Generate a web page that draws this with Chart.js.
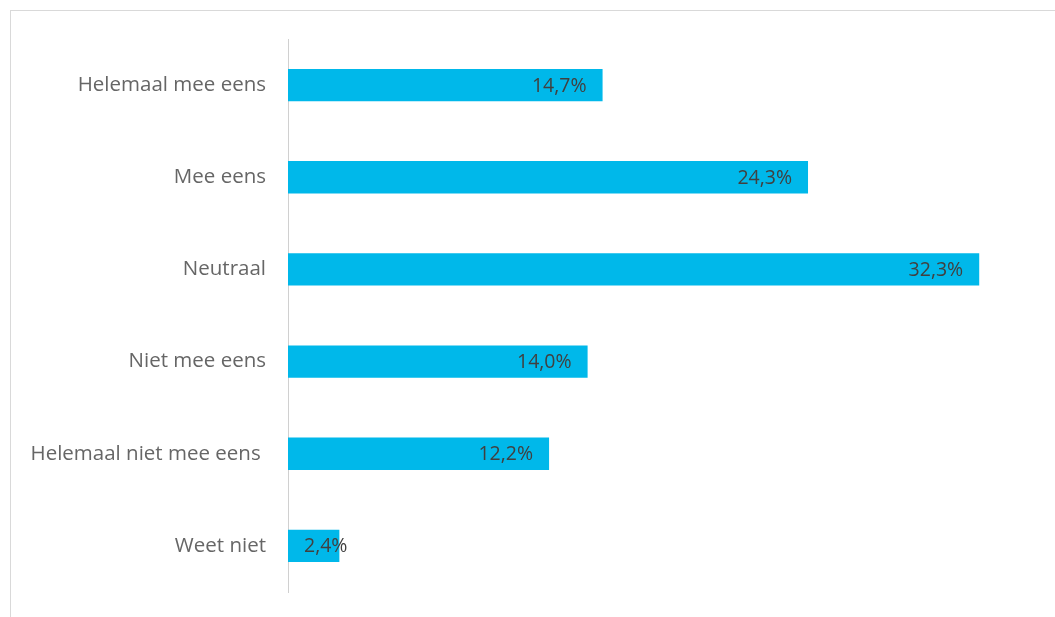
<!DOCTYPE html>
<html>
<head>
<meta charset="utf-8">
<script src="https://cdn.jsdelivr.net/npm/chart.js@4"></script>
<style>
  html, body { margin: 0; padding: 0; background: #fff; overflow: hidden; }
  #wrap { position: relative; width: 1055px; height: 617px; }
</style>
</head>
<body>
<div id="wrap"><canvas id="chart"></canvas></div>
<script>
// Answer categories and their shares (%)
const categories = ['Helemaal mee eens', 'Mee eens', 'Neutraal', 'Niet mee eens', 'Helemaal niet mee eens ', 'Weet niet'];
const shares = [14.7, 24.3, 32.3, 14.0, 12.2, 2.4];

const fmt = v => v.toFixed(1).replace('.', ',') + '%';

// light frame around the chart object
const framePlugin = {
  id: 'frame',
  beforeDraw(chart) {
    const c = chart.ctx;
    c.save();
    c.strokeStyle = '#d9d9d9';
    c.lineWidth = 1;
    c.strokeRect(10.5, 10.5, 1200, 800);
    c.restore();
  }
};

// value labels at the inner end of each bar
const valueLabels = {
  id: 'valueLabels',
  afterDatasetsDraw(chart) {
    const c = chart.ctx;
    const meta = chart.getDatasetMeta(0);
    const left = chart.chartArea.left;
    c.save();
    c.font = '19.5px "Open Sans"';
    c.fillStyle = '#404040';
    c.textBaseline = 'middle';
    c.textAlign = 'left';
    meta.data.forEach((bar, i) => {
      const txt = fmt(shares[i]);
      const w = c.measureText(txt).width;
      let x = bar.x - 16 - w;
      if (x < left + 16) x = left + 16;
      c.fillText(txt, x, bar.y + 1);
    });
    c.restore();
  }
};

new Chart(document.getElementById('chart'), {
  type: 'bar',
  data: {
    labels: categories,
    datasets: [{
      data: shares,
      backgroundColor: '#00b8ea',
      borderWidth: 0,
      categoryPercentage: 0.7,
      barPercentage: 0.5
    }]
  },
  options: {
    indexAxis: 'y',
    responsive: true,
    maintainAspectRatio: false,
    animation: false,
    layout: { padding: { top: 39, right: 18, bottom: 25, left: 0 } },
    plugins: { legend: { display: false }, tooltip: { enabled: false } },
    scales: {
      x: { display: false, min: 0, max: 35 },
      y: {
        afterFit(scale) {
          scale.width = 288;
          scale.paddingTop = 0;
          scale.paddingBottom = 0;
        },
        grid: { display: false, drawTicks: false },
        border: { display: true, color: '#d0d0d0', width: 1 },
        ticks: {
          color: '#666666',
          padding: 22,
          font: { family: '"Open Sans"', size: 20.5 }
        }
      }
    }
  },
  plugins: [framePlugin, valueLabels]
});
</script>
</body>
</html>
